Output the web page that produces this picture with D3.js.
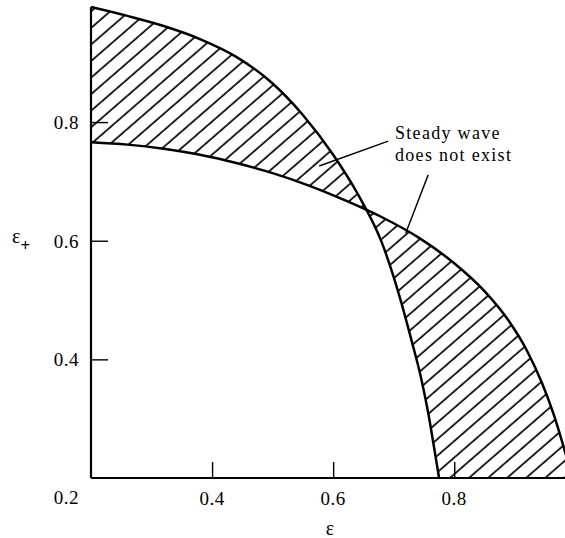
<!DOCTYPE html>
<html><head><meta charset="utf-8">
<script src="https://cdn.jsdelivr.net/npm/d3@7"></script>
<style>html,body{margin:0;padding:0;background:#fff}</style>
</head><body>
<script>
// Boundary curve A (epsilon, epsilon_plus)
const curveA = [
  [0.200,0.994],[0.260,0.979],[0.320,0.962],[0.380,0.940],[0.440,0.910],
  [0.500,0.865],[0.550,0.812],[0.600,0.745],[0.640,0.680],[0.680,0.598],
  [0.710,0.505],[0.730,0.430],[0.745,0.370],[0.757,0.310],[0.767,0.250],
  [0.775,0.200]
];
// Boundary curve B
const curveB = [
  [0.200,0.766],[0.260,0.762],[0.320,0.755],[0.380,0.745],[0.440,0.731],
  [0.500,0.714],[0.560,0.693],[0.620,0.668],[0.680,0.640],[0.740,0.606],
  [0.800,0.562],[0.850,0.515],[0.890,0.465],[0.920,0.415],[0.945,0.360],
  [0.965,0.305],[0.980,0.255],[0.995,0.200]
];
const xTicks = [0.4, 0.6, 0.8];
const yTicks = [0.4, 0.6, 0.8];
const cornerLabel = "0.2";
const annotation = ["Steady wave", "does not exist"];
const xLabel = "ε", yLabel = "ε", ySub = "+";

const W = 565, H = 538;
const x = d3.scaleLinear().domain([0.2, 0.983]).range([91, 565]);
const y = d3.scaleLinear().domain([0.2, 0.994]).range([478, 7]);

const svg = d3.select("body").append("svg").attr("width", W).attr("height", H);
const defs = svg.append("defs");
const pat = defs.append("pattern").attr("id","hatch").attr("patternUnits","userSpaceOnUse")
  .attr("width", 40).attr("height", 12.5).attr("patternTransform","rotate(-41)");
pat.append("line").attr("x1",0).attr("x2",40).attr("y1",6).attr("y2",6)
  .attr("stroke","#000").attr("stroke-width",1.7);
defs.append("clipPath").attr("id","plot").append("rect")
  .attr("x", x(0.2)).attr("y", 0).attr("width", W - x(0.2)).attr("height", y(0.2));

const line = d3.line().x(d=>x(d[0])).y(d=>y(d[1])).curve(d3.curveMonotoneX);
const corner = [0.2, 0.2];
const pathA = line(curveA) + "L" + x(corner[0]) + "," + y(corner[1]) + "Z";
const pathB = line(curveB) + "L" + x(corner[0]) + "," + y(corner[1]) + "Z";

const g = svg.append("g").attr("clip-path","url(#plot)");
g.append("path").attr("d", pathA + pathB).attr("fill","url(#hatch)").attr("fill-rule","evenodd");
g.append("path").attr("d", line(curveA)).attr("fill","none").attr("stroke","#000").attr("stroke-width",2.5);
g.append("path").attr("d", line(curveB)).attr("fill","none").attr("stroke","#000").attr("stroke-width",2.5);

// axes
const xAxis = d3.axisTop(x).tickValues(xTicks).tickSize(16).tickFormat("");
const yAxis = d3.axisRight(y).tickValues(yTicks).tickSize(17).tickFormat("");
const gx = svg.append("g").attr("transform",`translate(0,${y(0.2)})`).call(xAxis);
gx.select(".domain").remove();
gx.selectAll(".tick line").attr("stroke-width",1.4);
const gy = svg.append("g").attr("transform",`translate(${x(0.2)},0)`).call(yAxis);
gy.select(".domain").remove();
gy.selectAll(".tick line").attr("stroke-width",1.4);
svg.append("line").attr("x1",x(0.2)).attr("x2",W).attr("y1",y(0.2)).attr("y2",y(0.2))
  .attr("stroke","#000").attr("stroke-width",2);
svg.append("line").attr("x1",x(0.2)).attr("x2",x(0.2)).attr("y1",y(0.994)).attr("y2",y(0.2))
  .attr("stroke","#000").attr("stroke-width",2.2);

const font = "'Liberation Serif','Times New Roman',serif";
const fmt = d3.format(".1f");
svg.selectAll(".xl").data(xTicks).enter().append("text")
  .attr("x", d=>x(d)).attr("y", y(0.2)+27).attr("text-anchor","middle")
  .attr("font-family",font).attr("font-size",19).attr("letter-spacing",0.5).text(d=>fmt(d));
svg.selectAll(".yl").data(yTicks).enter().append("text")
  .attr("x", 79).attr("y", d=>y(d)+7).attr("text-anchor","end")
  .attr("font-family",font).attr("font-size",19).attr("letter-spacing",0.5).text(d=>fmt(d));
svg.append("text").attr("x",79).attr("y",y(0.2)+26).attr("text-anchor","end")
  .attr("font-family",font).attr("font-size",19).attr("letter-spacing",0.5).text(cornerLabel);

// axis labels
svg.append("text").attr("x",(x(0.2)+W)/2+2).attr("y",535).attr("text-anchor","middle")
  .attr("font-family",font).attr("font-size",20).text(xLabel);
const yl = svg.append("text").attr("x",12).attr("y",243).attr("font-family",font).attr("font-size",20);
yl.append("tspan").text(yLabel);
yl.append("tspan").attr("dy",8).attr("font-size",17).attr("font-weight","bold").text(ySub);

// annotation
const at = svg.append("text").attr("font-family",font).attr("font-size",18).attr("letter-spacing",1.3);
at.append("tspan").attr("x",395).attr("y",139).text(annotation[0]);
at.append("tspan").attr("x",395).attr("y",161).text(annotation[1]);
const leaders = [
  [[0.691,0.768],[0.577,0.726]],
  [[0.757,0.711],[0.720,0.613]]
];
svg.selectAll(".ld").data(leaders).enter().append("line")
  .attr("x1",d=>x(d[0][0])).attr("y1",d=>y(d[0][1]))
  .attr("x2",d=>x(d[1][0])).attr("y2",d=>y(d[1][1]))
  .attr("stroke","#000").attr("stroke-width",1.4);
</script>
</body></html>
